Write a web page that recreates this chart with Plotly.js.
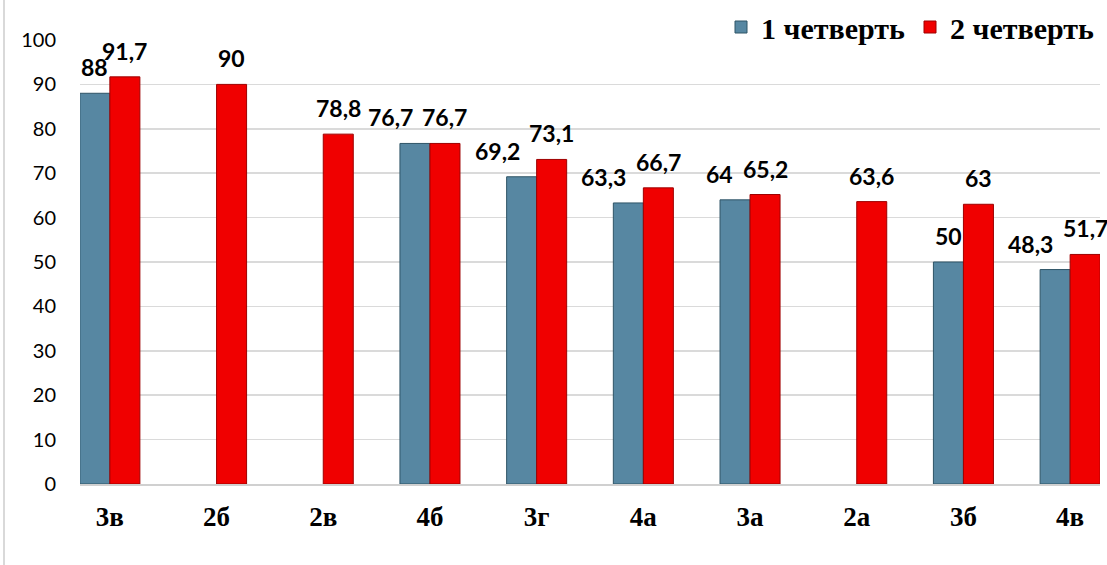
<!DOCTYPE html>
<html>
<head>
<meta charset="utf-8">
<script src="https://cdn.plot.ly/plotly-3.0.1.min.js"></script>
<style>
  html, body { margin: 0; padding: 0; background: #ffffff; }
  #chart { position: absolute; left: 0; top: 0; width: 1107px; height: 565px; }
  #frame { position: absolute; left: 3px; top: 0; width: 2px; height: 565px; background: #d9d9d9; z-index: 5; }
</style>
</head>
<body>
<div id="chart"></div>
<div id="frame"></div>
<script>
// ---- data ----
var classes = ['3в', '2б', '2в', '4б', '3г', '4а', '3а', '2а', '3б', '4в'];
var quarter1 = [88, null, null, 76.7, 69.2, 63.3, 64, null, 50, 48.3];
var quarter2 = [91.7, 90, 78.8, 76.7, 73.1, 66.7, 65.2, 63.6, 63, 51.7];
var seriesNames = ['1 четверть', '2 четверть'];
var yTicks = [0, 10, 20, 30, 40, 50, 60, 70, 80, 90, 100];

// ---- styling ----
var BARGAP = 0.4375;
var blue = '#5787a2';
var blueLine = '#2f5466';
var red = '#f00000';
var redLine = '#9e0000';
var H = 565, MB = 81, PLOT_TOP = 40;

function fmt(v) { return String(v).replace('.', ','); }

var traces = [
  {
    type: 'bar', name: seriesNames[0], x: classes, y: quarter1,
    marker: { color: blue, line: { color: blueLine, width: 1 } },
    hoverinfo: 'x+y'
  },
  {
    type: 'bar', name: seriesNames[1], x: classes, y: quarter2,
    marker: { color: red, line: { color: redLine, width: 1 } },
    hoverinfo: 'x+y'
  }
];

// data labels placed above each bar through the axes
var annotations = [];
var series = [quarter1, quarter2];
var half = (1 - BARGAP) / 4;
var labelFont = { family: 'Lato', size: 23, color: '#000000', weight: 'bold' };
series.forEach(function (vals, s) {
  vals.forEach(function (v, i) {
    if (v === null) return;
    var diff = (quarter2[i] !== null) ? quarter2[i] - v : 99;
    var crowded = (s === 0 && diff < 4 && (fmt(v).length > 2 || diff < 2));
    annotations.push({
      x: i + (s === 0 ? -half : half),
      y: v,
      xref: 'x', yref: 'y',
      text: fmt(v),
      showarrow: false,
      xanchor: crowded ? 'right' : 'center',
      yanchor: 'bottom',
      yshift: 10,
      font: labelFont
    });
  });
});

var plotH = H - MB;
var layout = {
  width: 1107,
  height: H,
  margin: { l: 80, r: 7, t: 0, b: MB },
  paper_bgcolor: '#ffffff',
  plot_bgcolor: '#ffffff',
  barmode: 'group',
  bargap: BARGAP,
  bargroupgap: 0,
  showlegend: true,
  legend: {
    orientation: 'h',
    x: 1, xanchor: 'right',
    y: 1 - 27 / plotH, yanchor: 'middle',
    bgcolor: 'rgba(0,0,0,0)',
    font: { family: 'Liberation Serif', size: 30, color: '#000000', weight: 'bold' },
    itemclick: false, itemdoubleclick: false
  },
  xaxis: {
    type: 'category',
    range: [-0.28, classes.length - 1 + 0.28],
    showgrid: false,
    zeroline: false,
    showline: true,
    linecolor: '#d0d0d0',
    linewidth: 2,
    ticks: '',
    ticklabelstandoff: 8,
    tickfont: { family: 'Liberation Serif', size: 27, color: '#000000', weight: 'bold' },
    fixedrange: true
  },
  yaxis: {
    domain: [0, 1 - PLOT_TOP / plotH],
    range: [0, 100],
    tickvals: yTicks,
    ticktext: yTicks.map(String),
    showgrid: true,
    gridcolor: '#dadada',
    gridwidth: 1.5,
    zeroline: false,
    showline: false,
    ticks: '',
    ticklabelstandoff: 23,
    tickfont: { family: 'Lato', size: 20, color: '#000000' },
    fixedrange: true
  },
  annotations: annotations
};

Plotly.newPlot('chart', traces, layout, { displayModeBar: false, staticPlot: true });
</script>
</body>
</html>
